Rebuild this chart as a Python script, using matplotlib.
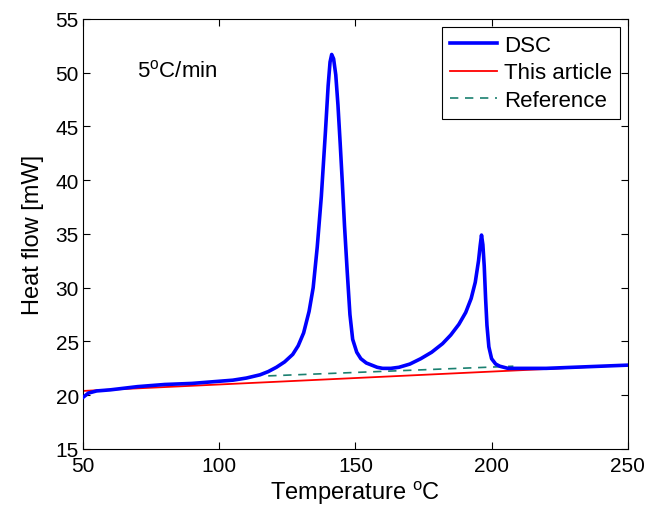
import numpy as np
import matplotlib
matplotlib.use("Agg")
import matplotlib.pyplot as plt

plt.rcParams["font.family"] = ["Liberation Sans", "DejaVu Sans"]
plt.rcParams["mathtext.default"] = "regular"

# DSC curve
dsc_t = [50, 50.5, 52, 55, 60, 70, 80, 90, 100, 105, 110, 115, 118, 121, 124,
         127, 129, 131, 133, 134.5, 136, 137.5, 139, 140, 140.7, 141.3, 142,
         142.8, 143.6, 144.4, 145.2, 146, 147, 148, 149, 150.5, 152, 154, 156,
         158, 160, 163, 166, 170, 174, 178, 182, 185, 188, 190.5, 192.5, 194,
         195.2, 195.8, 196.3, 196.8, 197.3, 197.8, 198.3, 199, 200, 201.5, 203,
         206, 210, 215, 220, 230, 240, 250]
dsc_h = [19.8, 19.9, 20.2, 20.4, 20.5, 20.8, 21.0, 21.1, 21.3, 21.4, 21.6,
         21.9, 22.2, 22.6, 23.1, 23.8, 24.6, 25.8, 27.8, 30.0, 33.8, 38.5, 44.5,
         48.8, 51.0, 51.7, 51.3, 49.8, 47.0, 43.5, 39.8, 35.8, 31.5, 27.5, 25.2,
         24.0, 23.4, 23.0, 22.8, 22.6, 22.5, 22.5, 22.6, 22.9, 23.4, 24.0, 24.8,
         25.6, 26.6, 27.7, 29.0, 30.5, 32.5, 33.9, 34.9, 34.0, 32.0, 29.0, 26.5,
         24.5, 23.4, 22.9, 22.7, 22.5, 22.5, 22.5, 22.5, 22.6, 22.7, 22.8]

# baselines
this_t = [50, 250]
this_h = [20.4, 22.8]
ref_t = [118, 208]
ref_h = [21.8, 22.7]

fig = plt.figure(figsize=(6.56, 5.06), dpi=100)
ax = fig.add_axes([0.1265, 0.1107, 0.8305, 0.8498])

ax.plot(this_t, this_h, color="#ff0000", lw=1.3, label="This article", zorder=2)
ax.plot(ref_t, ref_h, color="#1a8070", lw=1.2, ls=(0, (5, 4)), label="Reference", zorder=2)
ax.plot(dsc_t, dsc_h, color="#0000ff", lw=2.6, label="DSC", zorder=3)

ax.set_xlim(50, 250)
ax.set_ylim(15, 55)
ax.set_xticks([50, 100, 150, 200, 250])
ax.set_yticks(range(15, 56, 5))
ax.tick_params(direction="in", top=True, right=True, labelsize=15, length=5)
ax.tick_params(axis="x", pad=5)
ax.tick_params(axis="y", pad=3)
ax.set_xlabel("Temperature $^o$C", fontsize=17, labelpad=3)
ax.set_ylabel("Heat flow [mW]", fontsize=17)
ax.yaxis.set_label_coords(-0.0716, 0.5)
ax.text(69.8, 50.2, "5$^o$C/min", fontsize=16, va="center")

h, l = ax.get_legend_handles_labels()
order = [2, 0, 1]
leg = ax.legend([h[i] for i in order], [l[i] for i in order], loc="upper right",
                bbox_to_anchor=(0.9853, 0.9814), borderaxespad=0,
                fontsize=16, fancybox=False, edgecolor="black", framealpha=1,
                handlelength=2.15, labelspacing=0.3,
                borderpad=0.35, handletextpad=0.3)
leg.get_frame().set_linewidth(0.8)

fig.savefig("out.png", dpi=100)
